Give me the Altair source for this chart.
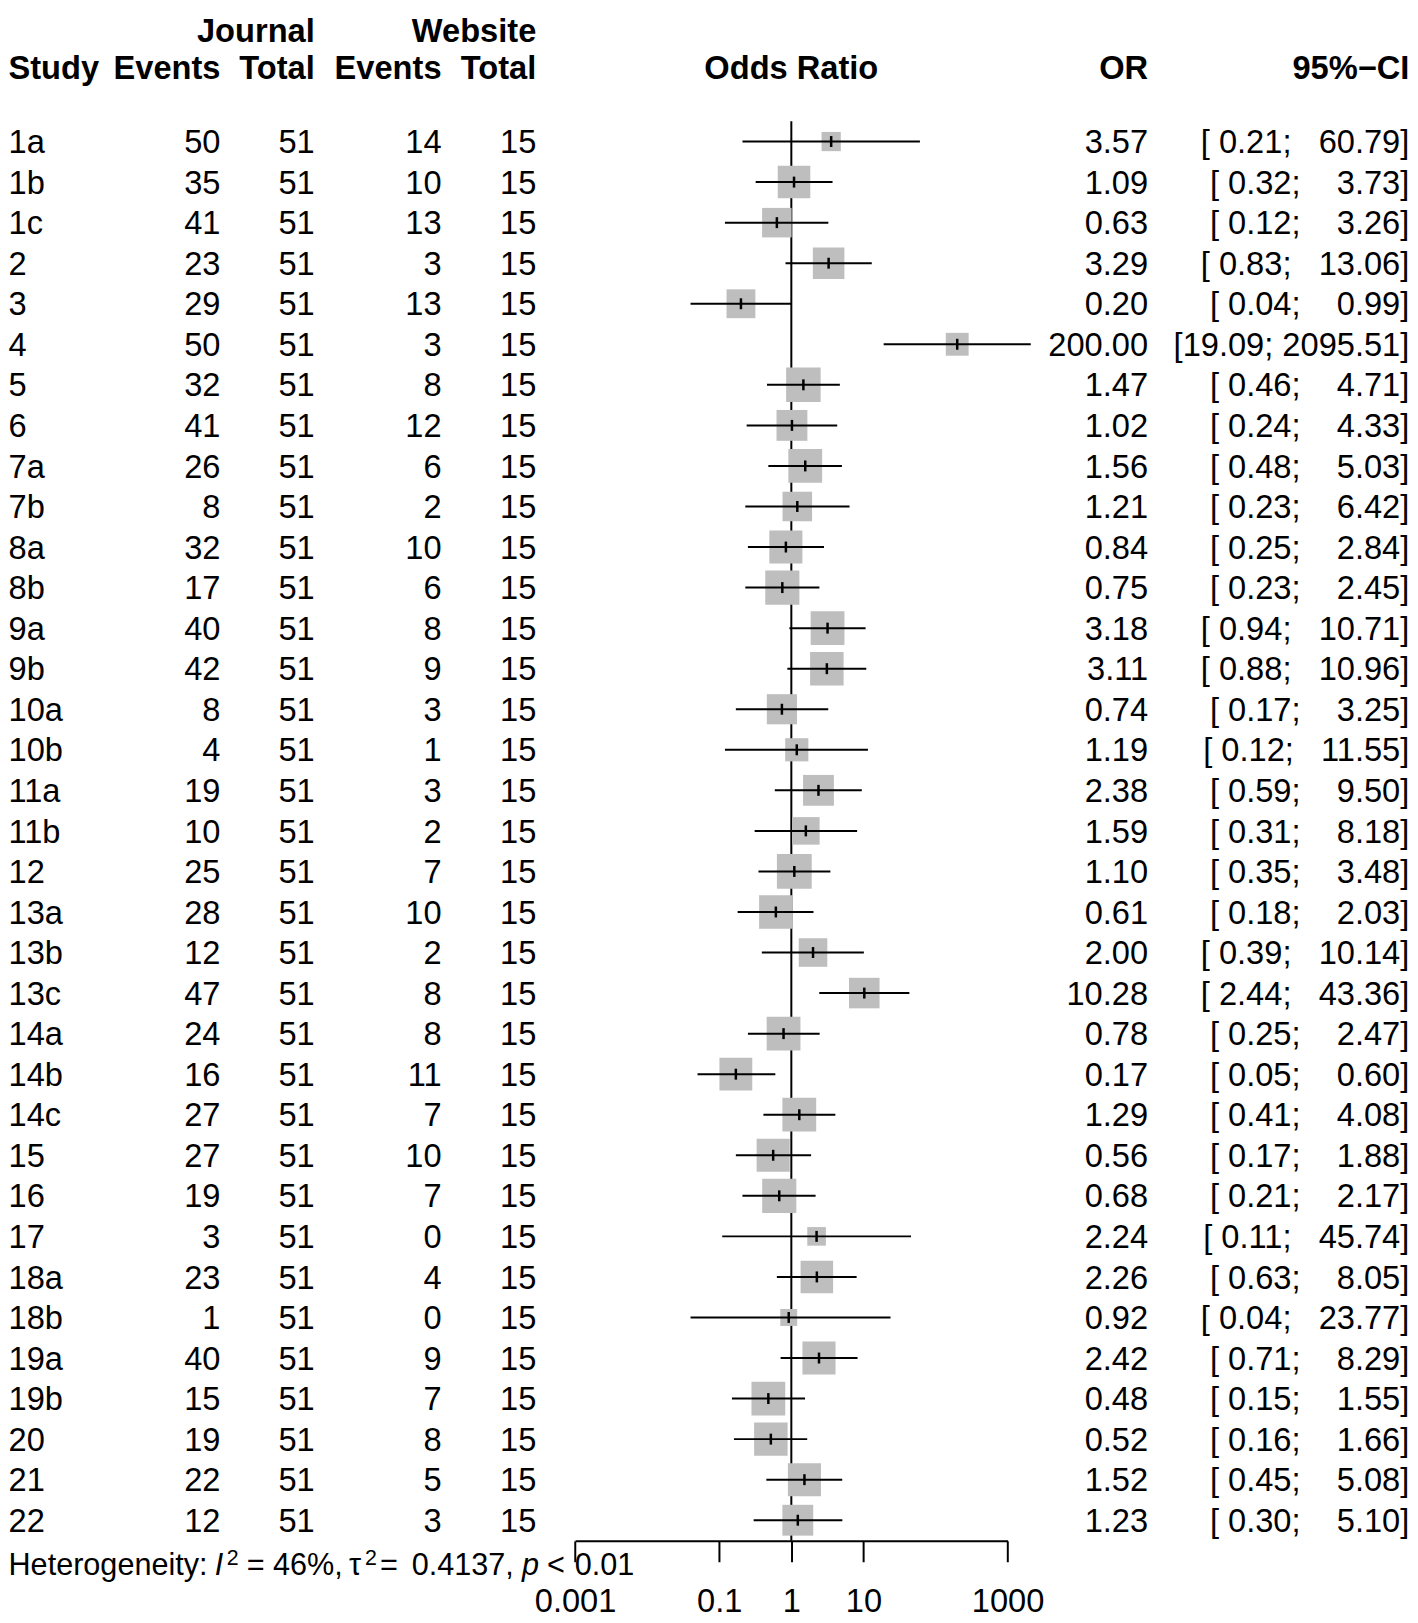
import altair as alt
import pandas as pd

# ---------------- data ----------------
studies = ["1a", "1b", "1c", "2", "3", "4", "5", "6", "7a", "7b", "8a", "8b",
           "9a", "9b", "10a", "10b", "11a", "11b", "12", "13a", "13b", "13c",
           "14a", "14b", "14c", "15", "16", "17", "18a", "18b", "19a", "19b",
           "20", "21", "22"]
journal_events = [50, 35, 41, 23, 29, 50, 32, 41, 26, 8, 32, 17, 40, 42, 8, 4,
                  19, 10, 25, 28, 12, 47, 24, 16, 27, 27, 19, 3, 23, 1, 40, 15,
                  19, 22, 12]
journal_total = [51, 51, 51, 51, 51, 51, 51, 51, 51, 51, 51, 51, 51, 51, 51, 51,
                 51, 51, 51, 51, 51, 51, 51, 51, 51, 51, 51, 51, 51, 51, 51, 51,
                 51, 51, 51]
website_events = [14, 10, 13, 3, 13, 3, 8, 12, 6, 2, 10, 6, 8, 9, 3, 1, 3, 2, 7,
                  10, 2, 8, 8, 11, 7, 10, 7, 0, 4, 0, 9, 7, 8, 5, 3]
website_total = [15, 15, 15, 15, 15, 15, 15, 15, 15, 15, 15, 15, 15, 15, 15, 15,
                 15, 15, 15, 15, 15, 15, 15, 15, 15, 15, 15, 15, 15, 15, 15, 15,
                 15, 15, 15]
odds_ratio = [3.57, 1.09, 0.63, 3.29, 0.20, 200.00, 1.47, 1.02, 1.56, 1.21, 0.84,
              0.75, 3.18, 3.11, 0.74, 1.19, 2.38, 1.59, 1.10, 0.61, 2.00, 10.28,
              0.78, 0.17, 1.29, 0.56, 0.68, 2.24, 2.26, 0.92, 2.42, 0.48, 0.52,
              1.52, 1.23]
ci_lower = [0.21, 0.32, 0.12, 0.83, 0.04, 19.09, 0.46, 0.24, 0.48, 0.23, 0.25,
            0.23, 0.94, 0.88, 0.17, 0.12, 0.59, 0.31, 0.35, 0.18, 0.39, 2.44,
            0.25, 0.05, 0.41, 0.17, 0.21, 0.11, 0.63, 0.04, 0.71, 0.15, 0.16,
            0.45, 0.30]
ci_upper = [60.79, 3.73, 3.26, 13.06, 0.99, 2095.51, 4.71, 4.33, 5.03, 6.42, 2.84,
            2.45, 10.71, 10.96, 3.25, 11.55, 9.50, 8.18, 3.48, 2.03, 10.14, 43.36,
            2.47, 0.60, 4.08, 1.88, 2.17, 45.74, 8.05, 23.77, 8.29, 1.55, 1.66,
            5.08, 5.10]
# study weights (%)
weight = [1.11, 3.18, 2.62, 2.99, 2.50, 1.57, 3.58, 2.86, 3.43, 2.62, 3.29, 3.50,
          3.43, 3.37, 2.73, 1.61, 2.86, 2.28, 3.64, 3.37, 2.45, 2.80, 3.43, 3.24,
          3.43, 3.29, 3.50, 1.04, 3.18, 0.86, 3.29, 3.43, 3.37, 3.29, 2.86]
axis_ticks = [0.001, 0.1, 1, 10, 1000]
top_headers = ["Journal", "Website"]
col_headers = ["Study", "Events", "Total", "Events", "Total", "Odds Ratio", "OR", "95%\u2212CI"]
het_pieces = ["Heterogeneity:", "I", "2", "= 46%,", "\u03c4", "2", "=", "0.4137,", "p", "<", "0.01"]

# ---------------- layout constants ----------------
W = 1410
H = 1537
FONT = "Liberation Sans, Arial, Helvetica, sans-serif"
FS = 32.8
DY = 11.7
NB = "\u00a0"

n = len(studies)
df = pd.DataFrame({
    "row": list(range(n)),
    "study": studies,
    "ej": [str(v) for v in journal_events],
    "tj": [str(v) for v in journal_total],
    "ew": [str(v) for v in website_events],
    "tw": [str(v) for v in website_total],
    "or": odds_ratio,
    "lo": ci_lower,
    "hi": ci_upper,
    "weight": weight,
})
df["or_txt"] = [f"{v:.2f}" for v in odds_ratio]
df["ci_txt"] = [("[" + f"{l:5.2f}" + "; " + f"{h:7.2f}" + "]").replace(" ", NB)
                for l, h in zip(ci_lower, ci_upper)]

Y_TOP, Y_AXIS = -3.1805, 34.509
ys = alt.Scale(domain=[Y_TOP, Y_AXIS], range=[0, H], zero=False, nice=False)
xs = alt.Scale(type="log", domain=[0.001, 1000], range=[570.3, 1005.3], nice=False)
xaxis = alt.Axis(values=axis_ticks, title=None, grid=False,
                 labelExpr="datum.value < 1 ? format(datum.value, '.3~f') : format(datum.value, 'd')",
                 labelFont=FONT, labelFontSize=FS, labelColor="black",
                 labelPadding=23.7, labelFlush=False, labelOverlap=False,
                 tickSize=21, tickWidth=2, tickColor="black",
                 domainWidth=2, domainColor="black")


def Y(field="row"):
    return alt.Y(f"{field}:Q", scale=ys, axis=None)


def X(field):
    return alt.X(f"{field}:Q", scale=xs, axis=xaxis)


# reference line at OR = 1
ref = alt.Chart(pd.DataFrame({"x": [1], "y": [-0.5], "y2": [Y_AXIS]})).mark_rule(
    color="black", strokeWidth=2).encode(x=X("x"), y=Y("y"), y2="y2:Q")

squares = alt.Chart(df).mark_square(color="#BEBEBE", opacity=1, strokeWidth=0).encode(
    x=X("or"), y=Y(),
    size=alt.Size("weight:Q", scale=alt.Scale(domain=[0, 4], range=[0, 1346.4]), legend=None))

ci = alt.Chart(df).mark_rule(color="black", strokeWidth=2).encode(
    x=X("lo"), x2="hi:Q", y=Y())

pt = alt.Chart(df).mark_point(shape="M0,-1L0,1", size=121, strokeWidth=2.5,
                              color="black", filled=False, opacity=1).encode(
    x=X("or"), y=Y())


def col_text(field, x, align):
    return alt.Chart(df).mark_text(align=align, baseline="alphabetic", dy=DY, font=FONT,
                                   fontSize=FS, color="black").encode(
        x=alt.value(x), y=Y(), text=f"{field}:N")


def header(label, row, x, align, use_scale=False):
    d = pd.DataFrame({"row": [row], "label": [label], "x": [1]})
    m = alt.Chart(d).mark_text(align=align, baseline="alphabetic", dy=DY, font=FONT,
                               fontSize=FS, fontWeight="bold", color="black")
    if use_scale:
        return m.encode(x=X("x"), y=Y(), text="label:N")
    return m.encode(x=alt.value(x), y=Y(), text="label:N")


X_STUDY, X_EJ, X_TJ, X_EW, X_TW, X_OR, X_CI = 0.5, 213.7, 308.5, 436.0, 531.3, 1146.6, 1409.3
TOP_ROW = -2.735
HEAD_ROW = -1.832

layers = [ref, squares, ci, pt,
          col_text("study", X_STUDY, "left"),
          col_text("ej", X_EJ, "right"),
          col_text("tj", X_TJ, "right"),
          col_text("ew", X_EW, "right"),
          col_text("tw", X_TW, "right"),
          col_text("or_txt", X_OR, "right"),
          col_text("ci_txt", X_CI, "right"),
          header(top_headers[0], TOP_ROW, X_TJ, "right"),
          header(top_headers[1], TOP_ROW, X_TW, "right"),
          header(col_headers[0], HEAD_ROW, X_STUDY, "left"),
          header(col_headers[1], HEAD_ROW, X_EJ, "right"),
          header(col_headers[2], HEAD_ROW, X_TJ, "right"),
          header(col_headers[3], HEAD_ROW, X_EW, "right"),
          header(col_headers[4], HEAD_ROW, X_TW, "right"),
          header(col_headers[5], HEAD_ROW, 0, "center", use_scale=True),
          header(col_headers[6], HEAD_ROW, X_OR, "right"),
          header(col_headers[7], HEAD_ROW, X_CI, "right")]

# heterogeneity statistics line
HFS = 30.8
HROW = 35.343
het_x = [0.5, 208, 220, 240, 343, 359, 374, 406, 517, 542, 570]
het_style = ["n", "i", "s", "n", "n", "s", "n", "n", "i", "n", "n"]
for txt, hx, st in zip(het_pieces, het_x, het_style):
    d = pd.DataFrame({"row": [HROW], "label": [txt]})
    kw = dict(align="left", baseline="alphabetic", font=FONT, color="black")
    if st == "s":
        kw.update(fontSize=21.5, dy=-10)
    else:
        kw.update(fontSize=HFS, dy=0)
    if st == "i":
        kw.update(fontStyle="italic")
    layers.append(alt.Chart(d).mark_text(**kw).encode(
        x=alt.value(hx), y=Y(), text="label:N"))

chart = alt.layer(*layers).properties(
    width=W, height=H, autosize="none",
    padding={"left": 0, "top": 0, "right": 0, "bottom": 78},
    background="white",
).configure_view(strokeWidth=0)

chart.save("out.html", embed_options={"renderer": "svg", "actions": False})
